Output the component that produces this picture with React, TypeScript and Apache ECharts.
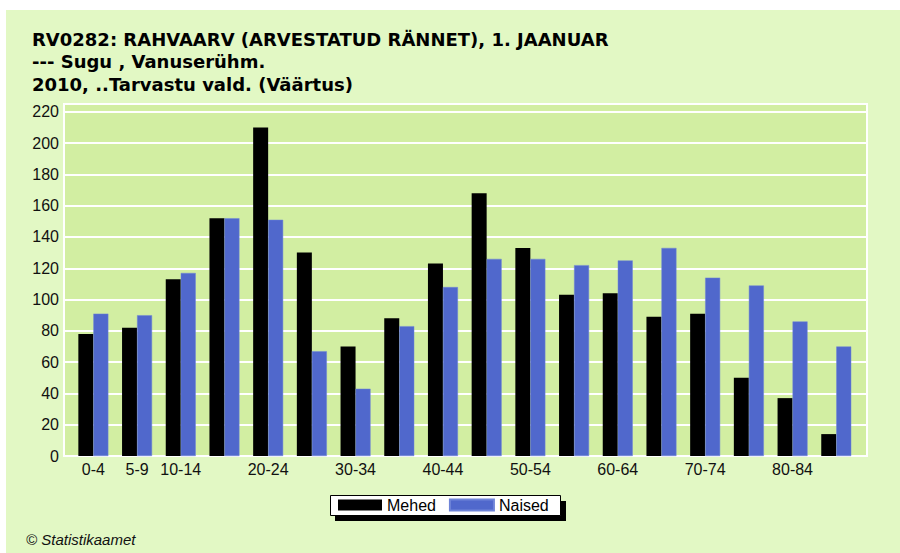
import React, { useEffect, useRef } from "react";
import * as echarts from "echarts";

const titleLines = [
  "RV0282: RAHVAARV (ARVESTATUD RÄNNET), 1. JAANUAR",
  "--- Sugu , Vanuserühm.",
  "2010, ..Tarvastu vald. (Väärtus)",
];

const categories = [
  "0-4", "5-9", "10-14", "15-19", "20-24", "25-29", "30-34", "35-39", "40-44",
  "45-49", "50-54", "55-59", "60-64", "65-69", "70-74", "75-79", "80-84", "85 ja vanemad",
];

const tickLabels = [
  "0-4", "5-9", "10-14", "", "20-24", "", "30-34", "", "40-44",
  "", "50-54", "", "60-64", "", "70-74", "", "80-84", "",
];

const mehed = [78, 82, 113, 152, 210, 130, 70, 88, 123, 168, 133, 103, 104, 89, 91, 50, 37, 14];
const naised = [91, 90, 117, 152, 151, 67, 43, 83, 108, 126, 126, 122, 125, 133, 114, 109, 86, 70];

const seriesNames = ["Mehed", "Naised"];
const footer = "© Statistikaamet";

const FONT = "'Liberation Sans', Arial, sans-serif";
const TITLE_FONT = "'DejaVu Sans', Verdana, sans-serif";

export default function App() {
  const ref = useRef<HTMLDivElement>(null);
  useEffect(() => {
    document.body.style.margin = "0";
    const chart = echarts.init(ref.current!, undefined, { renderer: "svg" });
    const yMax = 225;
    chart.setOption({
      animation: false,
      backgroundColor: "#e2f8c4",
      textStyle: { fontFamily: FONT },
      title: {
        text: titleLines.join("\n"),
        left: 32,
        top: 28,
        padding: 0,
        textStyle: {
          fontFamily: TITLE_FONT,
          fontSize: 18,
          fontWeight: "bold",
          color: "#000",
          lineHeight: 22.5,
        },
      },
      grid: [
        {
          left: 64,
          top: 104,
          width: 803,
          height: 352,
          show: true,
          backgroundColor: "#d2eea2",
          borderColor: "#ffffff",
          borderWidth: 2,
        },
        { left: 71.5, top: 104, width: 786.6, height: 352 },
      ],
      xAxis: [
        { gridIndex: 0, type: "value", show: false, min: 0, max: 1 },
        {
          gridIndex: 1,
          type: "category",
          data: categories,
          axisLine: { show: false },
          axisTick: { show: false },
          axisLabel: {
            interval: 0,
            margin: 5,
            fontSize: 16,
            color: "#111",
            fontFamily: FONT,
            formatter: (_v: string, i: number) => tickLabels[i],
          },
        },
      ],
      yAxis: [
        {
          gridIndex: 0,
          type: "value",
          min: 0,
          max: yMax,
          interval: 20,
          axisLine: { show: false },
          axisTick: { show: false },
          axisLabel: {
            showMaxLabel: false,
            margin: 5,
            fontSize: 16,
            color: "#111",
            fontFamily: FONT,
          },
          splitLine: { show: true, lineStyle: { color: "#ffffff", width: 2 } },
        },
        { gridIndex: 1, type: "value", min: 0, max: yMax, show: false, splitLine: { show: false } },
      ],
      legend: {
        data: seriesNames,
        left: 338,
        top: 497,
        padding: 0,
        itemWidth: 44,
        itemHeight: 11,
        itemGap: 13,
        icon: "rect",
        textStyle: { fontSize: 16, color: "#000", fontFamily: FONT, lineHeight: 16 },
      },
      graphic: [
        { type: "rect", shape: { x: 0, y: 0, width: 900, height: 10 }, style: { fill: "#ffffff" } },
        { type: "rect", shape: { x: 0, y: 0, width: 6, height: 553 }, style: { fill: "#ffffff" } },
        { type: "rect", shape: { x: 335, y: 501, width: 231, height: 20 }, style: { fill: "#000000" } },
        {
          type: "rect",
          shape: { x: 330.5, y: 495.5, width: 230, height: 20 },
          style: { fill: "#ffffff", stroke: "#000000", lineWidth: 1 },
        },
        {
          type: "text",
          x: 26,
          y: 532,
          style: {
            text: footer,
            fontFamily: FONT,
            fontSize: 15,
            fontStyle: "italic",
            fill: "#111",
          },
        },
      ],
      series: [
        {
          name: seriesNames[0],
          type: "bar",
          xAxisIndex: 1,
          yAxisIndex: 1,
          data: mehed,
          barWidth: 15,
          barGap: "0%",
          itemStyle: { color: "#000000" },
        },
        {
          name: seriesNames[1],
          type: "bar",
          xAxisIndex: 1,
          yAxisIndex: 1,
          data: naised,
          barWidth: 15,
          barGap: "0%",
          itemStyle: { color: "#5068cc", borderColor: "#6f84d8", borderWidth: 0.5 },
        },
      ],
    });
    return () => chart.dispose();
  }, []);
  return <div ref={ref} style={{ width: 900, height: 553 }} />;
}
